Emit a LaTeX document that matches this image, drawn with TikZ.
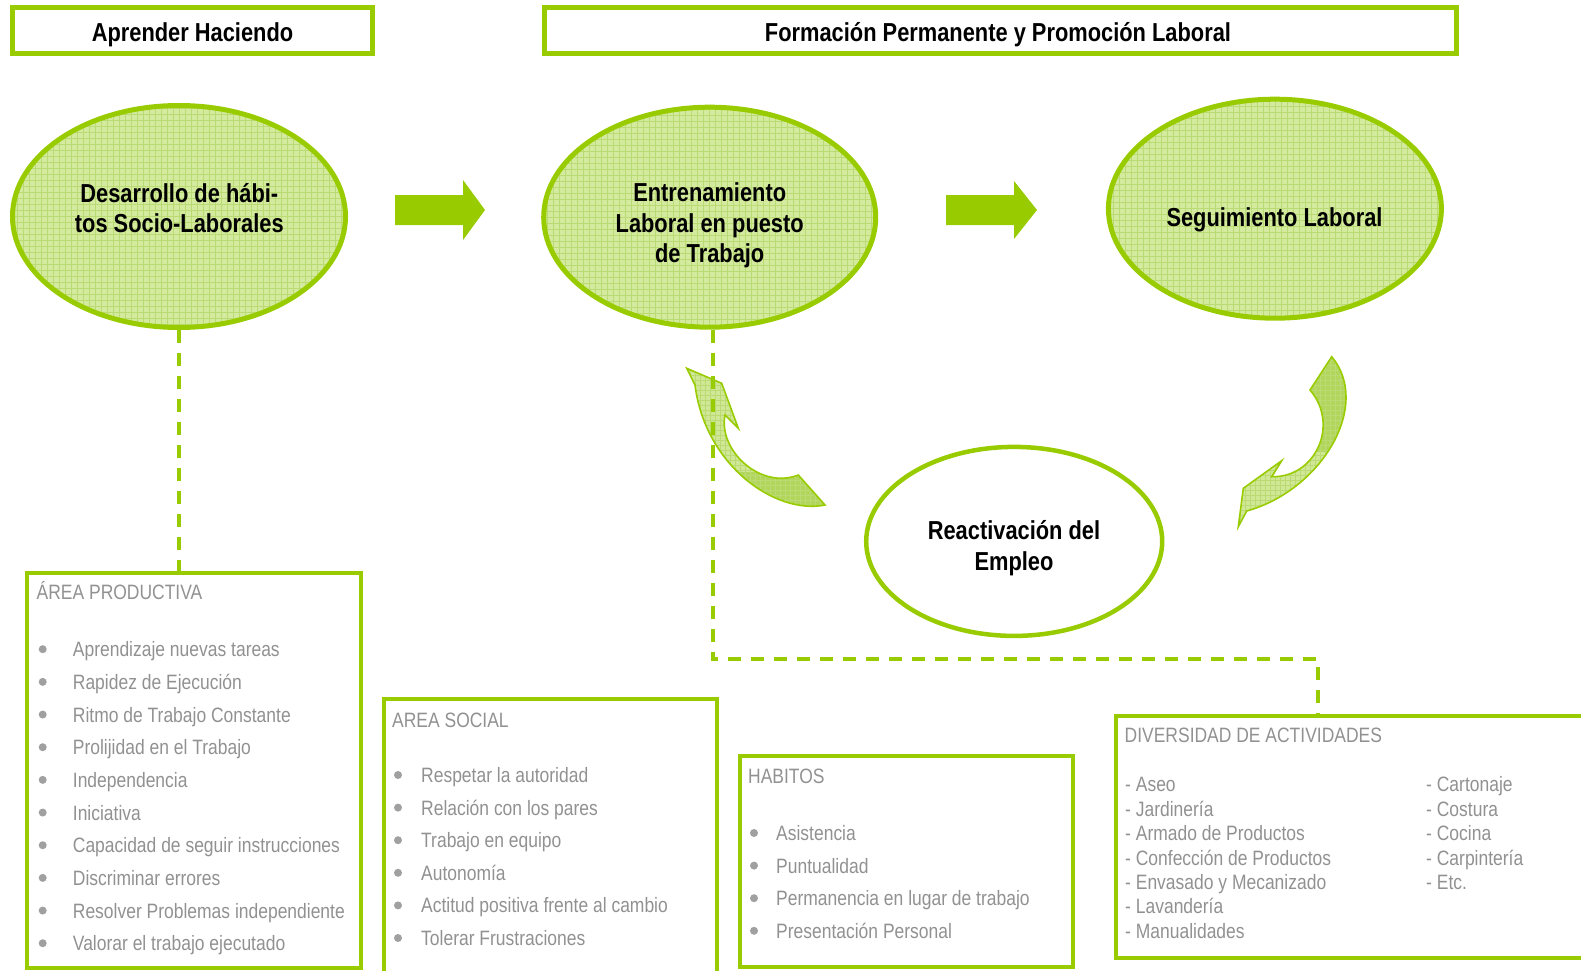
\documentclass[tikz,border=0pt]{standalone}
\usepackage{fontspec}
\setmainfont{Liberation Sans}[FakeStretch=0.84]
\usetikzlibrary{shapes.geometric}
\definecolor{lime}{RGB}{153,204,0}
\definecolor{ellfill}{RGB}{212,234,158}
\definecolor{gridc}{RGB}{186,219,115}
\definecolor{txtgray}{RGB}{145,145,145}
\definecolor{dotgray}{RGB}{160,160,160}
\definecolor{arrlight}{RGB}{208,232,150}
\definecolor{arrdark}{RGB}{178,214,92}
\begin{document}
\begin{tikzpicture}[x=1pt,y=-1pt,
  titlebox/.style={draw=lime, line width=5pt, fill=white, inner sep=0pt},
  titletext/.style={anchor=base, inner sep=0pt, font=\fontsize{26}{30}\selectfont\bfseries},
  bigell/.style={ellipse, draw=lime, line width=5pt, fill=ellfill, inner sep=0pt,
    path picture={\draw[gridc, line width=0.7pt, step=6pt] (path picture bounding box.south west) grid (path picture bounding box.north east);}},
  whiteell/.style={ellipse, draw=lime, line width=4.5pt, fill=white, inner sep=0pt},
  elltext/.style={anchor=base, inner sep=0pt, font=\fontsize{26}{30}\selectfont\bfseries},
  infobox/.style={draw=lime, line width=4pt, inner sep=0pt},
  graytext/.style={anchor=base west, inner sep=0pt, text=txtgray, font=\fontsize{20.8}{24}\selectfont},
  bulletdot/.style={circle, fill=dotgray, inner sep=0pt, minimum size=8pt},
  blockarrow/.style={fill=lime},
  dashline/.style={draw=lime, line width=4pt, dash pattern=on 13pt off 10pt},
  curvearrow/.style={draw=lime, line width=1.6pt, line join=miter}
]
\useasboundingbox (0,0) rectangle (1581,971);

% title boxes
\node[titlebox, minimum width=360pt, minimum height=46pt] (tb1) at (192.5,30.5) {};
\node[titletext] (tb1t) at (192.5,41.7) {Aprender Haciendo};
\node[titlebox, minimum width=912pt, minimum height=46pt] (tb2) at (1000.3,30.5) {};
\node[titletext] (tb2t) at (998,41.7) {Formación Permanente y Promoción Laboral};

% ellipses
\node[bigell, minimum width=333pt, minimum height=222pt] (e1) at (179,216.5) {};
\node[elltext] (e1a) at (179.3,202.7) {Desarrollo de hábi-};
\node[elltext] (e1b) at (179.3,232.7) {tos Socio-Laborales};

\node[bigell, minimum width=332pt, minimum height=220pt] (e2) at (709.7,217.2) {};
\node[elltext] (e2a) at (709.7,201.7) {Entrenamiento};
\node[elltext] (e2b) at (709.7,232.2) {Laboral en puesto};
\node[elltext] (e2c) at (709.7,262.7) {de Trabajo};

\node[bigell, minimum width=333pt, minimum height=219pt] (e3) at (1274.9,208.7) {};
\node[elltext] (e3a) at (1274.5,226) {Seguimiento Laboral};

\node[whiteell, minimum width=296pt, minimum height=189pt] (e4) at (1014.2,541.4) {};
\node[elltext] (e4a) at (1014,539.5) {Reactivación del};
\node[elltext] (e4b) at (1014,570.5) {Empleo};

% straight block arrows
\fill[blockarrow] (395,195) -- (463,195) -- (463,180) -- (485,210) -- (463,240) -- (463,225) -- (395,225) -- cycle;
\fill[blockarrow] (946,195) -- (1014,195) -- (1014,181) -- (1037,210) -- (1014,239) -- (1014,225) -- (946,225) -- cycle;

% left curved arrow
\begin{scope}
\clip (686.7,368.3) -- (721.7,383.3) -- (738.3,428.3) -- (725,415)
   .. controls (718,450) and (760,490) .. (798.3,475) -- (825,505)
   .. controls (775,515) and (705,465) .. (695,385) -- cycle;
\fill[arrlight] (680,360) rectangle (830,515);
\fill[arrdark] (680,472) rectangle (830,515);
\draw[gridc, line width=0.6pt, step=5pt] (680,360) grid (830,515);
\end{scope}
\draw[curvearrow] (686.7,368.3) -- (721.7,383.3) -- (738.3,428.3) -- (725,415)
   .. controls (718,450) and (760,490) .. (798.3,475) -- (825,505)
   .. controls (775,515) and (705,465) .. (695,385) -- cycle;

% right curved arrow
\begin{scope}
\clip (1331.7,356.7) .. controls (1372,405) and (1322,490) .. (1246.7,511)
   -- (1238.3,526.7) -- (1243.3,488.3) -- (1281.7,460.7) -- (1271.7,476.7)
   .. controls (1315,478) and (1340,425) .. (1310,390) -- cycle;
\fill[arrlight] (1230,350) rectangle (1360,530);
\fill[arrdark] (1230,350) rectangle (1360,452);
\draw[gridc, line width=0.6pt, step=5pt] (1230,350) grid (1360,530);
\end{scope}
\draw[curvearrow] (1331.7,356.7) .. controls (1372,405) and (1322,490) .. (1246.7,511)
   -- (1238.3,526.7) -- (1243.3,488.3) -- (1281.7,460.7) -- (1271.7,476.7)
   .. controls (1315,478) and (1340,425) .. (1310,390) -- cycle;

% info boxes
\node[infobox, minimum width=334pt, minimum height=395pt] (box1) at (194,770.5) {};
\node[infobox, minimum width=333pt, minimum height=291pt] (box2) at (550.5,844.5) {};
\node[infobox, minimum width=333pt, minimum height=211pt] (box3) at (906.5,861.5) {};
\node[infobox, minimum width=504pt, minimum height=242pt] (box4) at (1368,837) {};

% dashed connectors
\coordinate (corner) at (1318,659);
\draw[dashline] (e1.south) -- (e1.south |- box1.north);
\draw[dashline] ([xshift=3pt]e2.south) -- ([xshift=3pt]e2.south |- corner) -- (corner) -- (corner |- box4.north);

% box 1 text
\node[graytext] (b1h) at (36.5,599) {ÁREA PRODUCTIVA};
\foreach \t [count=\i from 0] in {Aprendizaje nuevas tareas, Rapidez de Ejecución, Ritmo de Trabajo Constante, Prolijidad en el Trabajo, Independencia, Iniciativa, Capacidad de seguir instrucciones, Discriminar errores, Resolver Problemas independiente, Valorar el trabajo ejecutado}{
  \node[bulletdot] (b1d\i) at (42.7,{656.7+32.67*\i-7.5}) {};
  \node[graytext] (b1t\i) at (72.7,{656.7+32.67*\i}) {\t};
}

% box 2 text
\node[graytext] (b2h) at (392,727.5) {AREA SOCIAL};
\foreach \t [count=\i from 0] in {Respetar la autoridad, Relación con los pares, Trabajo en equipo, Autonomía, Actitud positiva frente al cambio, Tolerar Frustraciones}{
  \node[bulletdot] (b2d\i) at (398,{782.5+32.6*\i-7.5}) {};
  \node[graytext] (b2t\i) at (421,{782.5+32.6*\i}) {\t};
}

% box 3 text
\node[graytext] (b3h) at (748,783.5) {HABITOS};
\foreach \t [count=\i from 0] in {Asistencia, Puntualidad, Permanencia en lugar de trabajo, Presentación Personal}{
  \node[bulletdot] (b3d\i) at (754,{840.5+32.6*\i-7.5}) {};
  \node[graytext] (b3t\i) at (776,{840.5+32.6*\i}) {\t};
}

% box 4 text
\node[graytext] (b4h) at (1124.5,742.7) {DIVERSIDAD DE ACTIVIDADES};
\foreach \t [count=\i from 0] in {- Aseo, - Jardinería, - Armado de Productos, - Confección de Productos, - Envasado y Mecanizado, - Lavandería, - Manualidades}{
  \node[graytext] (b4l\i) at (1125,{791.7+24.43*\i}) {\t};
}
\foreach \t [count=\i from 0] in {- Cartonaje, - Costura, - Cocina, - Carpintería, - Etc.}{
  \node[graytext] (b4r\i) at (1426,{791.7+24.43*\i}) {\t};
}
\end{tikzpicture}
\end{document}
